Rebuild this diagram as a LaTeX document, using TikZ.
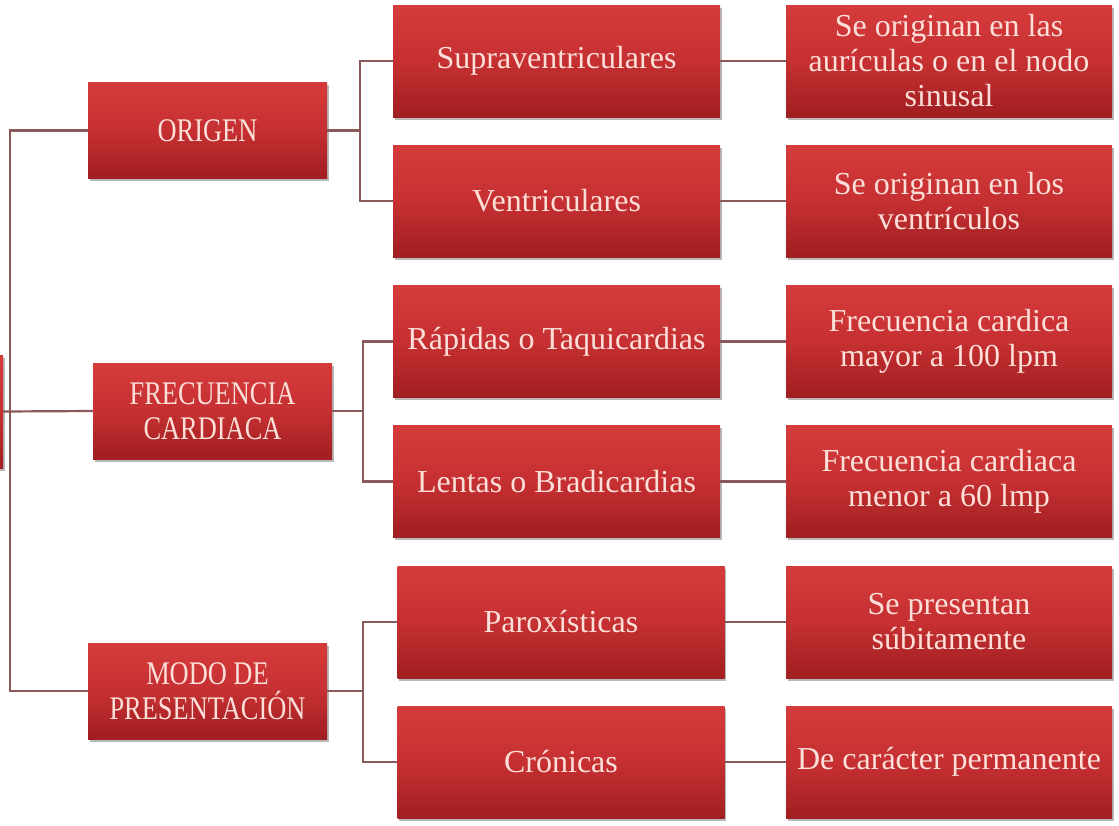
\documentclass[tikz,border=0pt]{standalone}
\usepackage{fontspec}
\setmainfont{Liberation Serif}
\newfontfamily\condfont{Liberation Serif}[FakeStretch=0.8]
\usetikzlibrary{shadows}
\definecolor{boxtop}{HTML}{D53B3B}
\definecolor{boxmid}{HTML}{C63032}
\definecolor{boxbot}{HTML}{A01E21}
\definecolor{boxtext}{HTML}{FBDFD8}
\definecolor{linkcol}{HTML}{8A5A5A}
\tikzset{
  box/.style={rectangle, top color=boxtop, bottom color=boxbot, middle color=boxmid,
    text=boxtext, inner sep=0pt, align=center,
    drop shadow={shadow xshift=1.5pt, shadow yshift=-2.5pt, opacity=0.28, fill=black}},
  lvone/.style={box, minimum width=239pt, minimum height=96pt,
    font=\condfont\fontsize{33}{35}\selectfont},
  lvtwo/.style={box, minimum width=327pt, minimum height=112pt,
    font=\fontsize{32}{35}\selectfont},
  lvthree/.style={lvtwo, minimum width=326pt},
  link/.style={draw=linkcol, line width=2.2pt}
}
\begin{document}
\begin{tikzpicture}[x=1pt, y=-1pt]
\path[use as bounding box] (0,0) rectangle (1119,825);
\clip (0,0) rectangle (1119,825);
\fill[white] (0,0) rectangle (1119,825);

% root (cut off at the left edge)
\node[box, minimum width=100pt, minimum height=113pt] (root) at (-47,411.5) {};

% level one
\node[lvone] (origen) at (207.5,130.5) {ORIGEN};
\node[lvone] (frec)   at (212.5,411)   {FRECUENCIA\\CARDIACA};
\node[lvone] (modo)   at (207.5,691)   {MODO DE\\PRESENTACIÓN};

% level two
\node[lvtwo] (supra) at (556.5,61)    {Supraventriculares};
\node[lvtwo] (ventr) at (556.5,201)   {Ventriculares};
\node[lvtwo] (rapid) at (556.5,341.5) {Rápidas o Taquicardias};
\node[lvtwo] (lent)  at (556.5,481.5) {Lentas o Bradicardias};
\node[lvtwo] (parox) at (561,622)     {Paroxísticas};
\node[lvtwo] (cron)  at (561,762)     {Crónicas};

% level three
\node[lvthree] (supraD) at (949,61)    {Se originan en las\\aurículas o en el nodo\\sinusal};
\node[lvthree] (ventrD) at (949,201)   {Se originan en los\\ventrículos};
\node[lvthree] (rapidD) at (949,341.5) {Frecuencia cardica\\mayor a 100 lpm};
\node[lvthree] (lentD)  at (949,481.5) {Frecuencia cardiaca\\menor a 60 lmp};
\node[lvthree] (paroxD) at (949,622)   {Se presentan\\súbitamente};
\node[lvthree] (cronD)  at (949,762)   {De carácter permanente};

% junction points
\coordinate (trunk) at (10,0);
\path (origen.east) ++(33,0) coordinate (jA);
\path (frec.east)   ++(31,0) coordinate (jB);
\path (modo.east)   ++(36,0) coordinate (jC);

% connectors
\draw[link] (root.east) -- (frec.west);
\draw[link] (origen.west) -- (origen.west -| trunk) -- (modo.west -| trunk) -- (modo.west);

\draw[link] (origen.east) -- (jA);
\draw[link] (supra.west) -| (jA) |- (ventr.west);
\draw[link] (frec.east) -- (jB);
\draw[link] (rapid.west) -| (jB) |- (lent.west);
\draw[link] (modo.east) -- (jC);
\draw[link] (parox.west) -| (jC) |- (cron.west);

\draw[link] (supra.east) -- (supraD.west);
\draw[link] (ventr.east) -- (ventrD.west);
\draw[link] (rapid.east) -- (rapidD.west);
\draw[link] (lent.east)  -- (lentD.west);
\draw[link] (parox.east) -- (paroxD.west);
\draw[link] (cron.east)  -- (cronD.west);
\end{tikzpicture}
\end{document}
